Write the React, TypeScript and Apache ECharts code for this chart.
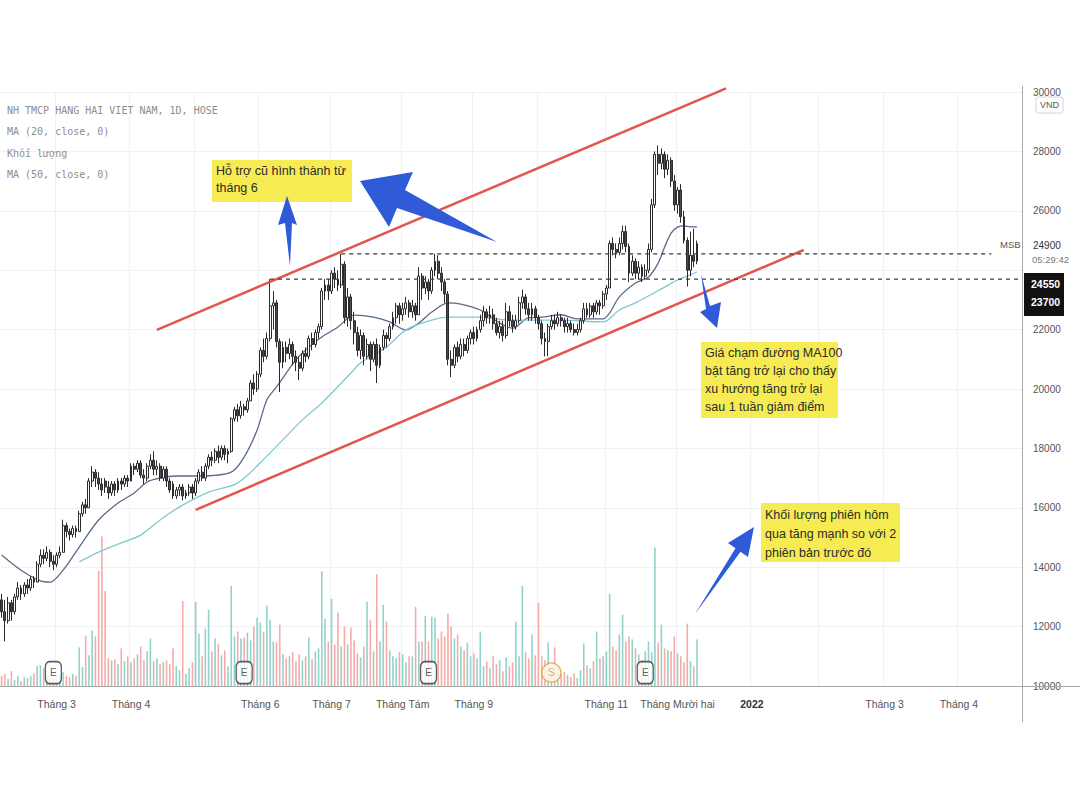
import React, { useEffect, useRef } from "react";
import * as echarts from "echarts";

// ---------- axis structure ----------
const slotCount = 316; // trading-day slots from early Feb 2021 to mid Apr 2022
const categories: string[] = Array.from({ length: slotCount }, (_, i) => String(i));
const monthTickIdx = [17, 40, 60, 80, 102, 124, 146, 166, 187, 209, 232, 253, 273, 296];
const monthTickLabels = ["Tháng 3", "Tháng 4", "", "Tháng 6", "Tháng 7", "Tháng Tám", "Tháng 9", "", "Tháng 11", "Tháng Mười hai", "2022", "", "Tháng 3", "Tháng 4"];
const priceMin = 10000;
const priceMax = 30000;
const priceStep = 2000;
const hiddenPriceLabels = [24000];

// ---------- OHLC: [open, close, low, high] ----------
const ohlc: number[][] = [
  [12900, 12500, 12300, 13100], [12500, 12200, 11500, 12900], [12200, 12800, 12100, 13000], [12800, 12500, 12200, 12900],
  [12500, 13000, 12400, 13100], [13000, 13300, 12900, 13500], [13300, 13100, 12900, 13400], [13100, 13400, 13000, 13500],
  [13400, 13300, 13100, 13600], [13300, 13600, 13200, 13700], [13600, 13500, 13300, 13700], [13500, 14100, 13500, 14200],
  [14100, 14400, 14000, 14600], [14400, 14300, 14100, 14600], [14300, 14500, 14200, 14700], [14500, 14200, 14000, 14600],
  [14200, 14100, 13900, 14400], [14100, 14400, 14000, 14500], [14400, 14500, 14300, 14700], [14500, 15400, 14500, 15600],
  [15400, 15200, 15000, 15500], [15200, 15100, 14900, 15300], [15100, 15300, 15000, 15400], [15300, 15200, 15000, 15400],
  [15200, 15800, 15200, 15900], [15800, 16100, 15700, 16200], [16100, 16000, 15800, 16300], [16000, 16900, 16000, 17000],
  [16900, 17200, 16700, 17400], [17200, 17000, 16700, 17300], [17000, 16800, 16600, 17200], [16800, 16600, 16400, 17000],
  [16900, 16700, 16500, 17000], [16700, 16500, 16300, 16900], [16500, 16800, 16400, 16900], [16800, 16600, 16400, 16900],
  [16600, 16900, 16500, 17000], [16900, 16800, 16600, 17000], [16800, 17000, 16700, 17100], [17000, 16900, 16700, 17100],
  [16900, 17400, 16900, 17500], [17400, 17300, 17100, 17500], [17300, 17500, 17200, 17600], [17500, 17100, 17000, 17600],
  [17100, 17000, 16800, 17300], [17000, 17400, 16900, 17500], [17400, 17600, 17300, 17800], [17600, 17300, 17100, 17900],
  [17300, 17400, 17100, 17600], [17400, 17000, 16900, 17500], [17000, 17300, 16900, 17400], [17300, 16900, 16700, 17400],
  [16900, 16600, 16500, 17000], [16800, 16400, 16300, 16900], [16400, 16600, 16300, 16700], [16600, 16700, 16400, 16800],
  [16700, 16400, 16250, 16800], [16400, 16500, 16300, 16600], [16500, 16700, 16400, 16800], [16700, 16500, 16300, 16800],
  [16500, 16900, 16400, 17000], [16900, 17200, 16800, 17300], [17200, 17000, 16900, 17400], [17000, 17400, 16900, 17500],
  [17400, 17700, 17300, 17800], [17700, 17600, 17400, 17900], [17600, 17900, 17500, 18000], [17900, 17700, 17500, 18100],
  [17700, 18000, 17600, 18100], [18000, 17800, 17600, 18100], [17800, 17900, 17500, 18000], [17900, 19000, 17850, 19050],
  [19000, 19300, 18900, 19400], [19300, 19100, 18900, 19500], [19100, 19400, 19000, 19600], [19400, 19300, 19100, 19500],
  [19300, 19600, 19200, 19700], [19600, 20200, 19600, 20300], [20200, 20000, 19800, 20500], [20000, 20500, 19900, 20600],
  [20500, 21300, 20400, 21400], [21300, 21100, 20900, 21700], [21100, 21700, 21000, 21900], [21700, 22800, 21600, 23700],
  [22800, 22900, 22000, 23300], [22900, 21600, 21400, 23000], [21600, 20900, 19900, 21700], [20900, 21400, 20700, 21600],
  [21400, 21200, 20900, 21600], [21200, 21500, 21000, 21700], [21500, 21100, 20800, 21600], [21100, 20900, 20600, 21300],
  [20900, 20700, 20300, 21100], [20700, 21200, 20600, 21300], [21200, 21100, 20900, 21400], [21100, 21700, 21000, 21800],
  [21700, 21500, 21300, 21900], [21500, 21900, 21400, 22000], [21900, 22100, 21700, 22200], [22100, 23300, 22000, 23400],
  [23300, 23500, 23000, 23700], [23500, 23300, 23000, 23700], [23300, 23900, 23200, 24000], [23900, 23700, 23400, 24100],
  [23700, 23500, 23300, 24000], [23500, 24200, 23400, 24550], [24200, 22400, 22200, 24300], [22400, 23100, 22100, 23400],
  [23100, 22300, 22000, 23200], [22300, 21900, 21500, 22600], [21900, 21300, 21100, 22100], [21300, 21800, 21000, 22000],
  [21800, 21100, 20800, 21900], [21100, 21500, 21000, 21700], [21500, 21000, 20600, 21600], [21000, 21500, 20900, 21600],
  [21500, 20800, 20200, 21700], [20800, 21400, 20700, 21500], [21400, 21800, 21300, 22000], [21800, 21700, 21400, 21900],
  [21700, 22100, 21600, 22200], [22100, 22400, 22000, 22600], [22400, 22800, 22200, 22900], [22800, 22500, 22200, 22900],
  [22500, 22700, 22300, 22900], [22700, 22900, 22500, 23100], [22900, 22600, 22400, 23000], [22600, 22800, 22400, 23000],
  [22800, 22500, 22300, 22900], [22500, 23800, 22500, 24100], [23800, 23400, 23000, 23900], [23400, 23600, 23200, 23800],
  [23600, 23300, 23000, 23700], [23300, 24000, 23200, 24100], [24000, 24300, 23800, 24550], [24300, 23900, 23700, 24500],
  [23900, 23600, 23300, 24100], [23600, 23200, 22900, 23700], [23200, 21000, 20800, 23300], [21000, 20800, 20400, 21300],
  [20800, 21400, 20700, 21500], [21400, 21100, 20900, 21600], [21100, 21500, 21000, 21700], [21500, 21300, 21100, 21700],
  [21300, 21700, 21200, 21800], [21700, 21900, 21500, 22000], [21900, 21700, 21500, 22100], [21700, 22000, 21600, 22100],
  [22000, 22300, 21900, 22500], [22300, 22600, 22100, 22800], [22600, 22400, 22200, 22700], [22400, 22500, 22200, 22800],
  [22500, 22200, 22000, 22700], [22200, 21900, 21800, 22400], [21900, 22100, 21700, 22300], [22100, 21800, 21600, 22300],
  [21800, 22600, 21700, 22900], [22600, 22300, 22100, 22800], [22300, 22100, 21900, 22500], [22100, 22300, 22000, 22500],
  [22300, 22900, 22200, 23100], [22900, 23100, 22700, 23350], [23100, 22700, 22500, 23200], [22700, 22500, 22300, 22900],
  [22500, 22700, 22300, 22900], [22700, 22400, 22200, 22800], [22400, 22200, 22000, 22500], [22200, 21700, 21500, 22300],
  [21700, 21600, 21100, 21900], [21600, 22100, 21100, 22200], [22100, 22300, 22000, 22500], [22300, 22200, 22000, 22500],
  [22200, 22400, 22100, 22600], [22400, 22300, 22100, 22500], [22300, 22100, 21900, 22400], [22100, 22200, 21900, 22400],
  [22200, 22000, 21900, 22300], [22000, 21900, 21800, 22200], [21900, 22000, 21800, 22200], [22000, 22300, 21900, 22400],
  [22300, 22700, 22200, 22900], [22700, 22500, 22400, 22900], [22500, 22800, 22400, 22900], [22800, 22600, 22400, 22900],
  [22600, 22900, 22500, 23000], [22900, 22800, 22500, 23000], [22800, 23200, 22700, 23300], [23200, 23400, 23000, 23500],
  [23400, 24900, 23400, 25000], [24900, 24700, 24500, 25100], [24700, 24600, 24400, 24900], [24600, 24900, 24500, 25100],
  [24900, 25300, 24700, 25500], [25300, 24800, 24600, 25500], [24800, 23900, 23600, 24900], [23900, 24300, 23800, 24500],
  [24300, 23900, 23700, 24400], [23900, 24100, 23700, 24300], [24100, 23800, 23600, 24200], [23800, 24000, 23700, 24200],
  [24000, 24700, 23900, 24900], [24700, 26200, 24600, 26400], [26200, 27900, 26100, 28000], [27900, 27600, 27200, 28200],
  [27600, 27900, 27400, 28100], [27900, 27400, 27100, 28000], [27400, 27700, 27200, 27900], [27700, 27000, 26800, 27800],
  [27000, 26200, 26000, 27200], [26200, 26700, 25900, 26800], [26700, 25800, 25600, 26900], [25800, 25000, 24900, 26000],
  [25000, 24000, 23450, 25100], [24000, 24500, 23800, 25300], [24500, 24300, 24100, 25400], [24300, 24900, 24200, 25000],
];

// ---------- volume (million shares) ----------
const volume: number[] = [
  1.0, 1.2, 0.7, 1.5, 0.6, 1.0, 0.5, 0.9, 0.8, 1.0,
  1.3, 2.0, 2.1, 1.8, 1.2, 0.9, 1.0, 0.8, 1.1, 1.4,
  1.0, 0.9, 1.2, 1.0, 3.9, 1.9, 5.1, 3.1, 5.6, 5.0,
  11.6, 15.1, 9.6, 2.8, 2.6, 2.7, 2.2, 3.8, 2.5, 3.0,
  2.4, 2.8, 3.2, 4.0, 2.6, 3.5, 4.8, 2.5, 2.8, 2.2,
  2.4, 2.6, 2.2, 3.8, 2.0, 1.6, 8.6, 1.2, 1.8, 2.4,
  8.5, 5.3, 3.0, 5.8, 7.7, 3.5, 4.8, 4.2, 3.1, 3.6,
  2.0, 10.1, 5.0, 5.5, 4.8, 4.9, 5.4, 4.6, 6.0, 6.9,
  6.4, 5.5, 8.1, 6.7, 4.5, 4.4, 6.2, 3.2, 2.8, 3.0,
  3.4, 2.5, 3.2, 2.6, 3.0, 4.9, 2.7, 3.5, 3.8, 11.6,
  6.8, 4.5, 8.8, 4.2, 7.4, 4.0, 6.0, 4.2, 5.9, 4.6,
  3.3, 2.9, 4.0, 8.5, 6.7, 3.5, 11.3, 4.5, 8.2, 6.5,
  3.6, 3.0, 2.8, 3.4, 3.2, 2.4, 3.0, 3.0, 8.0, 4.5,
  4.5, 7.1, 4.5, 7.0, 6.9, 4.8, 5.5, 5.0, 7.3, 6.0,
  4.8, 5.2, 4.0, 3.6, 4.4, 3.0, 3.3, 2.8, 5.5, 2.0,
  2.5, 1.8, 3.0, 2.2, 2.6, 1.5, 2.9, 2.0, 2.4, 6.5,
  3.0, 10.1, 3.4, 2.8, 5.2, 3.1, 8.4, 3.0, 2.6, 4.4,
  1.5, 3.9, 2.0, 1.2, 1.4, 1.1, 0.9, 1.3, 0.8, 1.6,
  4.3, 2.1, 1.8, 2.5, 5.5, 2.8, 3.0, 3.5, 9.3, 4.0,
  3.6, 5.2, 7.2, 4.5, 5.0, 4.7, 3.8, 3.2, 2.6, 3.5,
  4.5, 3.4, 14.0, 4.4, 6.2, 3.8, 3.6, 3.5, 5.0, 3.3,
  3.0, 2.4, 6.3, 2.5, 2.0, 4.7,
];
const volumeMax = 60;

// ---------- moving averages: [slot, value] ----------
const ma20: number[][] = [
  [0, 14410], [6, 13900], [12, 13540], [15, 13500], [19, 13900], [24, 14680], [30, 15590], [36, 16160],
  [41, 16500], [45, 16870], [49, 17000], [54, 17070], [61, 17070], [71, 17200], [75, 17710], [79, 18620],
  [82, 19630], [85, 20070], [91, 20980], [95, 21410], [99, 21750], [104, 22090], [109, 22490], [115, 22420],
  [120, 22260], [125, 21990], [129, 22220], [133, 22590], [138, 22900], [142, 22860], [148, 22660], [154, 22220],
  [158, 22050], [163, 22400], [167, 22420], [173, 22500], [178, 22360], [186, 22360], [188, 22560], [191, 23100],
  [196, 23570], [200, 23770], [203, 24240], [205, 24780], [207, 25250], [209, 25450], [211, 25490], [213, 25460], [215, 25460],
];
const ma50: number[][] = [
  [24, 14180], [30, 14510], [37, 14820], [43, 15080], [49, 15590], [55, 16030], [64, 16530], [73, 16840],
  [83, 17850], [93, 18960], [99, 19530], [108, 20540], [111, 20880], [119, 21410], [125, 21990], [133, 22320],
  [138, 22420], [148, 22420], [157, 22320], [173, 22320], [186, 22260], [191, 22660], [196, 22900], [205, 23430],
  [209, 23670], [213, 23840], [215, 23940],
];

// ---------- drawn levels ----------
const upperTrend = [[48, 21990], [224, 30120]];
const lowerTrend = [[60, 15930], [248, 24680]];
const resistance = [[105, 24550], [306, 24550]];
const support = [[83, 23700], [315, 23700]];
const earningsSlots = [16, 75, 132, 199];
const splitSlots = [170];
const markerLevel = 1.35;

// ---------- texts ----------
const legendLines = ["NH TMCP HANG HAI VIET NAM, 1D, HOSE", "MA (20, close, 0)", "Khối lượng", "MA (50, close, 0)"];
const note1 = ["Hỗ trợ cũ hình thành từ", "tháng 6"];
const note2 = ["Giá chạm đường MA100", "bật tăng trở lại cho thấy", "xu hướng tăng trở lại", "sau 1 tuần giảm điểm"];
const note3 = ["Khối lượng phiên hôm", "qua tăng mạnh so với 2", "phiên bản trước đó"];
const lastPrice = "24900";
const countdown = "05:29:42";
const levelLabels = ["24550", "23700"];

const YELLOW = "#f6eb52";
const BLUE = "#2f5bd8";
const SANS = '"Liberation Sans", Arial, sans-serif';

export default function App() {
  const ref = useRef<HTMLDivElement>(null);
  useEffect(() => {
    if (!ref.current) return;
    const chart = echarts.init(ref.current, null, { renderer: "svg" });
    const tickSet = new Set(monthTickIdx);
    const labelOf = (idx: number) => {
      const k = monthTickIdx.indexOf(idx);
      if (k < 0) return "";
      const t = monthTickLabels[k];
      return /^\d{4}$/.test(t) ? `{b|${t}}` : t;
    };
    const volData = volume.map((v, i) => ({
      value: v,
      itemStyle: { color: ohlc[i][1] >= ohlc[i][0] ? "#92d2cb" : "#f5aba8" },
    }));
    const levelLine = (data: number[][], dashed: boolean, color: string, width: number) => ({
      type: "line",
      data,
      showSymbol: false,
      symbol: "none",
      clip: false,
      silent: true,
      z: 4,
      lineStyle: { color, width, type: dashed ? [4, 4] : "solid" },
    });
    const noteGroup = (x: number, y: number, w: number, h: number, lines: string[], lh: number) => [
      { type: "rect", shape: { x, y, width: w, height: h }, style: { fill: YELLOW }, z: 100 },
      {
        type: "text",
        x: x + 4,
        y: y + 2,
        z: 101,
        style: { text: lines.join("\n"), fill: "#2b2b2b", fontSize: 12.5, fontFamily: SANS, lineHeight: lh, textVerticalAlign: "top" },
      },
    ];
    const arrow = (pts: number[][]) => ({ type: "polygon", shape: { points: pts }, style: { fill: BLUE }, z: 102 });

    const option: any = {
      animation: false,
      backgroundColor: "#ffffff",
      grid: { left: 0, right: 58, top: 92, bottom: 124 },
      xAxis: {
        type: "category",
        data: categories,
        boundaryGap: true,
        axisLine: { show: false },
        axisTick: { show: false },
        axisLabel: {
          interval: (idx: number) => tickSet.has(idx),
          formatter: (_v: string, idx: number) => labelOf(idx),
          color: "#555",
          fontSize: 10.5,
          fontFamily: SANS,
          margin: 12,
          rich: { b: { fontWeight: "bold", color: "#333", fontSize: 10.5, fontFamily: SANS } },
        },
        splitLine: { show: true, interval: (idx: number) => tickSet.has(idx), lineStyle: { color: "#eff1f5", width: 1 } },
      },
      yAxis: [
        {
          type: "value",
          position: "right",
          min: priceMin,
          max: priceMax,
          interval: priceStep,
          axisLine: { show: false },
          axisTick: { show: false },
          axisLabel: {
            margin: 11,
            color: "#555",
            fontSize: 10,
            fontFamily: SANS,
            formatter: (v: number) => (hiddenPriceLabels.includes(v) ? "" : String(v)),
          },
          splitLine: { lineStyle: { color: "#eff1f5", width: 1 } },
        },
        { type: "value", min: 0, max: volumeMax, show: false, splitLine: { show: false } },
      ],
      series: [
        { type: "bar", yAxisIndex: 1, data: volData, barWidth: 1.6, z: 1, silent: true },
        {
          type: "candlestick",
          data: ohlc,
          barWidth: 2.4,
          z: 3,
          itemStyle: { color: "#ffffff", color0: "#4a4a4a", borderColor: "#2b2b2b", borderColor0: "#2b2b2b", borderWidth: 1 },
        },
        { type: "line", data: ma20, smooth: 0.3, showSymbol: false, symbol: "none", z: 3, lineStyle: { color: "#5a6a8a", width: 1.3 } },
        { type: "line", data: ma50, smooth: 0.3, showSymbol: false, symbol: "none", z: 3, lineStyle: { color: "#84c6d3", width: 1.3 } },
        levelLine(upperTrend, false, "#e2564f", 2.5),
        levelLine(lowerTrend, false, "#e2564f", 2.5),
        levelLine(resistance, true, "#3a3a3a", 1.2),
        levelLine(support, true, "#3a3a3a", 1.2),
        {
          type: "scatter",
          yAxisIndex: 1,
          data: earningsSlots.map((s) => [s, markerLevel]),
          symbol: "roundRect",
          symbolSize: [16, 22],
          z: 5,
          itemStyle: { color: "#ffffff", borderColor: "#333", borderWidth: 1.5 },
          label: { show: true, position: "inside", formatter: "E", color: "#333", fontSize: 10, fontFamily: SANS },
        },
        {
          type: "scatter",
          yAxisIndex: 1,
          data: splitSlots.map((s) => [s, markerLevel]),
          symbol: "circle",
          symbolSize: 19,
          z: 5,
          itemStyle: { color: "#fff7e8", borderColor: "#e3a447", borderWidth: 1.5 },
          label: { show: true, position: "inside", formatter: "S", color: "#d99a3e", fontSize: 10, fontFamily: SANS },
        },
      ],
      graphic: [
        // axis frame lines
        { type: "line", shape: { x1: 0, y1: 686.5, x2: 1080, y2: 686.5 }, style: { stroke: "#a8a8a8", lineWidth: 1 }, z: 50 },
        { type: "line", shape: { x1: 1022.5, y1: 86, x2: 1022.5, y2: 722 }, style: { stroke: "#a8a8a8", lineWidth: 1 }, z: 50 },
        // legend
        ...legendLines.map((t, i) => ({
          type: "text",
          x: 7,
          y: 110 + i * 21.5,
          z: 60,
          style: { text: t, fill: "#8d8d8d", fontSize: 10, fontFamily: '"DejaVu Sans Mono", monospace', textVerticalAlign: "middle" },
        })),
        // price scale extras
        { type: "rect", shape: { x: 1036, y: 97, width: 27, height: 16, r: 2 }, style: { fill: "#fff", stroke: "#cfd3da", lineWidth: 1 }, z: 60 },
        { type: "text", x: 1049.5, y: 105, z: 61, style: { text: "VND", fill: "#555", fontSize: 9, fontFamily: SANS, textAlign: "center", textVerticalAlign: "middle" } },
        { type: "text", x: 1000, y: 244, z: 61, style: { text: "MSB", fill: "#555", fontSize: 9.5, fontFamily: SANS, textVerticalAlign: "middle" } },
        { type: "text", x: 1033, y: 245, z: 61, style: { text: lastPrice, fill: "#333", fontSize: 10, fontFamily: SANS, textVerticalAlign: "middle" } },
        { type: "text", x: 1032, y: 259, z: 61, style: { text: countdown, fill: "#777", fontSize: 9.5, fontFamily: SANS, textVerticalAlign: "middle" } },
        { type: "rect", shape: { x: 1024, y: 273, width: 40, height: 43 }, style: { fill: "#111" }, z: 60 },
        { type: "text", x: 1031, y: 284, z: 61, style: { text: levelLabels[0], fill: "#fff", fontSize: 10.5, fontWeight: "bold", fontFamily: SANS, textVerticalAlign: "middle" } },
        { type: "text", x: 1031, y: 302, z: 61, style: { text: levelLabels[1], fill: "#fff", fontSize: 10.5, fontWeight: "bold", fontFamily: SANS, textVerticalAlign: "middle" } },
        // notes
        ...noteGroup(212, 160, 140, 42, note1, 17),
        ...noteGroup(701, 342, 137, 76, note2, 18),
        ...noteGroup(761, 503, 139, 59, note3, 19),
        // arrows
        arrow([[287, 196], [297, 225], [292, 223], [290, 266], [285, 223], [278, 225]]),
        arrow([[360, 181], [413, 172], [405, 190], [497, 242], [397, 208], [389, 227]]),
        arrow([[701, 274], [710, 306], [721, 302], [717, 328], [700, 312], [706, 309]]),
        arrow([[695, 614], [735.5, 548.3], [728, 543], [754, 527], [748, 557], [740.5, 551.7]]),
      ],
    };
    chart.setOption(option);
    return () => chart.dispose();
  }, []);
  return <div ref={ref} style={{ position: "absolute", left: 0, top: 0, width: 1080, height: 810, background: "#fff" }} />;
}
